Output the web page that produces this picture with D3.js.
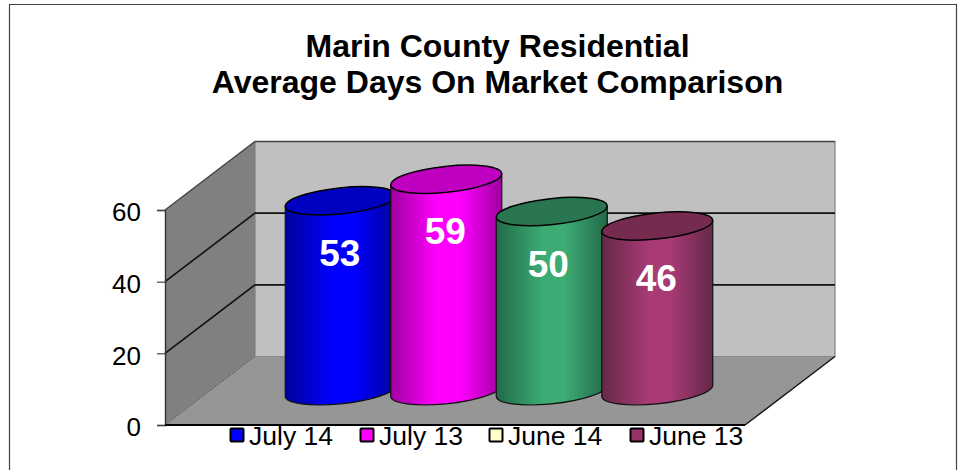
<!DOCTYPE html>
<html>
<head>
<meta charset="utf-8">
<script src="https://cdn.jsdelivr.net/npm/d3@7"></script>
<style>
  html, body { margin: 0; padding: 0; background: #fff; overflow: hidden; }
  svg { display: block; font-family: "Liberation Sans", Arial, sans-serif; }
</style>
</head>
<body>
<svg id="chart" width="958" height="470"></svg>
<script>
const titleLines = ['Marin County Residential', 'Average Days On Market Comparison'];
const categories = ['July 14', 'July 13', 'June 14', 'June 13'];
const values     = [53, 59, 50, 46];
const yTicks     = [0, 20, 40, 60];

// bar shading: edge, middle, lid. June 14 bar is green but its legend key is cream in the original
const barEdge    = ['#00009a', '#a000a0', '#226a48', '#652848'];
const barMid     = ['#0000ff', '#ff00ff', '#3cab74', '#a83a75'];
const barLid     = ['#0000c0', '#c000c0', '#28754f', '#752a50'];
const legendFill = ['#0000ff', '#ff00ff', '#ffffcc', '#993366'];

const svg = d3.select('#chart');

// ── Frame ──
svg.append('path').attr('d', 'M9.5,470V4.5H956.5V470')
  .attr('fill', 'none').attr('stroke', '#444').attr('stroke-width', 1.2);

svg.append('g').selectAll('text').data(titleLines).join('text')
  .attr('x', 497.5).attr('y', (d, i) => 57 + i * 36)
  .attr('text-anchor', 'middle')
  .attr('font-size', 32).attr('font-weight', 'bold').attr('fill', '#000')
  .text(d => d);

// ── 3D box ──
const X0 = 165, X1 = 745, DX = 90, DY = -68.5;
const y = d3.scaleLinear().domain([0, 60]).range([425, 210]);
const poly = pts => d3.line()(pts) + 'Z';

const yTop = y(60), yBot = y(0);
svg.append('path') // back wall
  .attr('d', poly([[X0 + DX, yTop + DY], [X1 + DX, yTop + DY], [X1 + DX, yBot + DY], [X0 + DX, yBot + DY]]))
  .attr('fill', '#c0c0c0').attr('stroke', '#808080').attr('stroke-width', 1.2);
svg.append('path') // side wall
  .attr('d', poly([[X0, yTop], [X0 + DX, yTop + DY], [X0 + DX, yBot + DY], [X0, yBot]]))
  .attr('fill', '#808080');
svg.append('path') // floor
  .attr('d', poly([[X0, yBot], [X0 + DX, yBot + DY], [X1 + DX, yBot + DY], [X1, yBot]]))
  .attr('fill', '#969696');

// top edge of the box
svg.append('path')
  .attr('d', `M${X0},${yTop}L${X0 + DX},${yTop + DY}H${X1 + DX}`)
  .attr('fill', 'none').attr('stroke', '#444').attr('stroke-width', 1.4);

// gridlines on the walls
const grid = svg.append('g').attr('fill', 'none').attr('stroke', '#111').attr('stroke-width', 1.6);
yTicks.filter(t => t > 0 && t < 60).forEach(t => {
  grid.append('path').attr('d', `M${X0},${y(t)}L${X0 + DX},${y(t) + DY}H${X1 + DX}`);
});

// floor edges
svg.append('path')
  .attr('d', `M${X0},${yBot}L${X0 + DX},${yBot + DY}`)
  .attr('fill', 'none').attr('stroke', '#555').attr('stroke-dasharray', '2,1');
svg.append('path')
  .attr('d', `M${X1},${yBot}L${X1 + DX},${yBot + DY}`)
  .attr('fill', 'none').attr('stroke', '#111').attr('stroke-width', 1.4);

// ── Cylinders ──
const x = d3.scaleBand().domain(categories).range([288, 710]);
const MIDY = DY / 2;
const HW = 55.5, RA = 55.7, RB = 13, TILT = -6, SKEW = 5.5;
const labelNudge = [-1, -1, -3.5, -1];

const defs = svg.append('defs');
categories.forEach((c, i) => {
  const g = defs.append('linearGradient').attr('id', `bar-${i}`);
  g.append('stop').attr('offset', '0%').attr('stop-color', barEdge[i]);
  g.append('stop').attr('offset', '42%').attr('stop-color', barMid[i]);
  g.append('stop').attr('offset', '62%').attr('stop-color', barMid[i]);
  g.append('stop').attr('offset', '100%').attr('stop-color', barEdge[i]);
});

const bars = svg.append('g').selectAll('g').data(categories).join('g');
bars.each(function (c, i) {
  const g = d3.select(this);
  const cx = x(c) + x.bandwidth() / 2;
  const top = y(values[i]) + MIDY, bot = y(0) + MIDY;
  g.append('path')
    .attr('d', `M${cx - HW},${top + SKEW}L${cx - HW},${bot + SKEW}` +
      `A${RA},${RB} ${TILT} 0 0 ${cx + HW},${bot - SKEW}L${cx + HW},${top - SKEW}Z`)
    .attr('fill', `url(#bar-${i})`).attr('stroke', '#111').attr('stroke-width', 1.2);
  g.append('ellipse')
    .attr('rx', RA).attr('ry', RB)
    .attr('transform', `translate(${cx},${top}) rotate(${TILT})`)
    .attr('fill', barLid[i]).attr('stroke', '#000').attr('stroke-width', 1.5);
  g.append('text')
    .attr('x', cx + labelNudge[i]).attr('y', top + 65)
    .attr('text-anchor', 'middle')
    .attr('font-size', 37).attr('font-weight', 'bold').attr('fill', '#fff')
    .text(values[i]);
});

// ── Axes ──
const yAxis = svg.append('g').attr('transform', `translate(${X0},0)`)
  .call(d3.axisLeft(y).tickValues(yTicks).tickSize(8).tickPadding(16).tickFormat(d3.format('d')));
yAxis.select('.domain').attr('stroke', '#333').attr('stroke-width', 1.4);
yAxis.selectAll('.tick line').attr('stroke', '#444').attr('stroke-width', 1.2);
yAxis.selectAll('text').attr('font-size', 26).attr('dy', '0.42em')
  .attr('font-family', '"Liberation Sans", Arial, sans-serif').attr('fill', '#000');

svg.append('line').attr('x1', X0).attr('x2', X1).attr('y1', yBot).attr('y2', yBot)
  .attr('stroke', '#000').attr('stroke-width', 2);

// ── Legend ──
const legendX = d3.scaleOrdinal().domain(categories).range([230, 360, 489, 630]);
const legend = svg.append('g').selectAll('g').data(categories).join('g')
  .attr('transform', d => `translate(${legendX(d)},428)`);
legend.append('rect').attr('x', 0.5).attr('y', 0.5).attr('width', 13).attr('height', 13)
  .attr('rx', 1)
  .attr('fill', (d, i) => legendFill[i]).attr('stroke', '#000').attr('stroke-width', 2);
legend.append('text').attr('x', 19).attr('y', 17)
  .attr('font-size', 26.5).attr('fill', '#000').text(d => d);
</script>
</body>
</html>
